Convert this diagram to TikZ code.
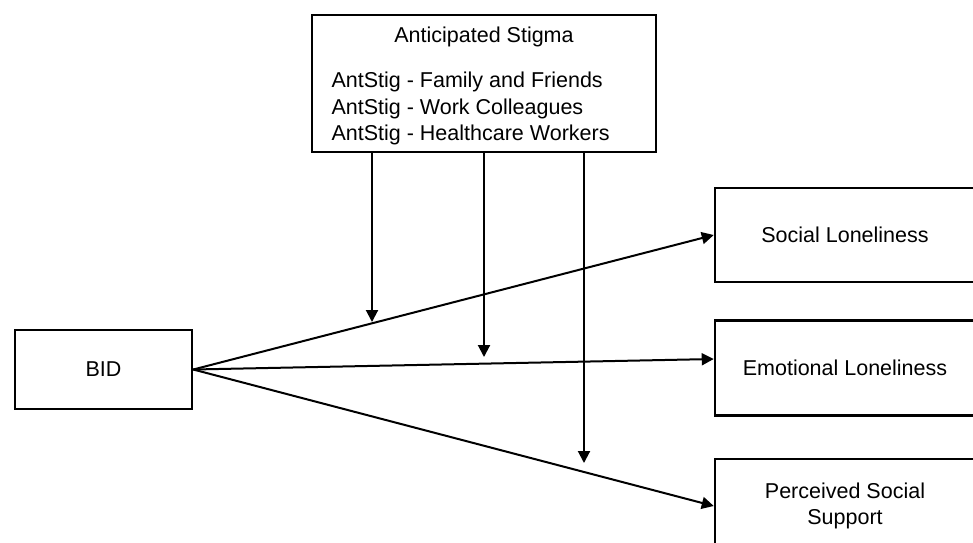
\documentclass[tikz,border=0pt]{standalone}
\usepackage{fontspec}
\setmainfont{Liberation Sans}
\usetikzlibrary{positioning, arrows.meta}

\begin{document}
\begin{tikzpicture}[x=1pt, y=-1pt,
	every node/.style={font=\fontsize{21.5}{26.5}\selectfont},
	box/.style={draw, line width=2.5pt, align=center, inner sep=0pt},
	link/.style={line width=2pt, -{Triangle[length=12pt, width=12pt]}}]
	\useasboundingbox (0,0) rectangle (973,542);

	\node[box, minimum width=177pt, minimum height=79pt] (bid) at (103.5,369.5) {BID};
	\node[box, minimum width=260pt, minimum height=94pt] (social) at (845,235) {Social Loneliness};
	\node[box, minimum width=260pt, minimum height=95pt, below=36pt of social] (emo) {Emotional Loneliness};
	\node[box, minimum width=260pt, minimum height=94pt, below=41pt of emo] (support) {Perceived Social\\Support};

	\node[box, minimum width=344pt, minimum height=137pt] (stigma) at (484,83.5) {};
	\node (title) at (484,37) {Anticipated Stigma};
	\node[anchor=west, align=left] (items) at (328,108.5) {AntStig - Family and Friends\\AntStig - Work Colleagues\\AntStig - Healthcare Workers};

	\coordinate (m1) at (372,322);
	\coordinate (m2) at (484,357);
	\coordinate (m3) at (584,463);

	\draw[link] (bid.east) -- (social.west);
	\draw[link] (bid.east) -- ([yshift=9pt]emo.west);
	\draw[link] (bid.east) -- (support.west);

	\draw[link] (stigma.south -| m1) -- (m1);
	\draw[link] (stigma.south -| m2) -- (m2);
	\draw[link] (stigma.south -| m3) -- (m3);
\end{tikzpicture}
\end{document}
